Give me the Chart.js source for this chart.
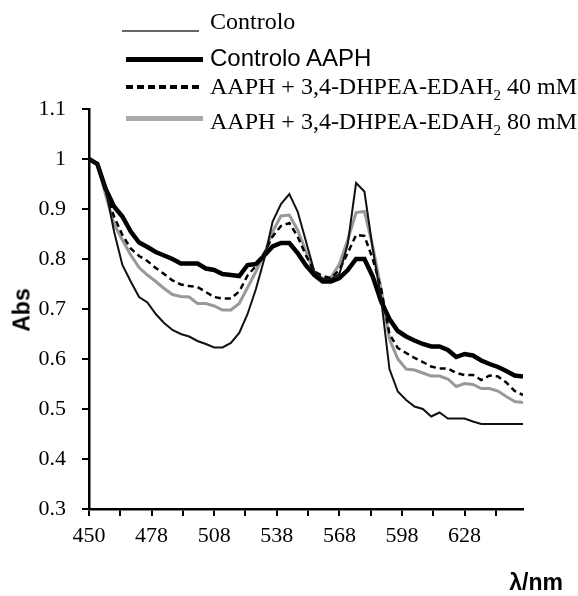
<!DOCTYPE html>
<html>
<head>
<meta charset="utf-8">
<script src="https://cdn.jsdelivr.net/npm/chart.js@4.4.1/dist/chart.umd.min.js"></script>
<style>
  body { margin: 0; background: #fff; }
  #contenedor { position: relative; width: 578px; height: 596px; }
  .linea { position: absolute; }
  .texto { position: absolute; left: 210px; height: 26px; line-height: 26px; white-space: nowrap; font-family: 'Liberation Serif', serif; font-size: 24px; color: #000; }
  .texto sub { font-size: 15px; vertical-align: -6px; line-height: 0; }
  .sans { font-family: 'Liberation Sans', Arial, sans-serif; }
  .titulo { position: absolute; font-family: 'Liberation Sans', Arial, sans-serif; font-weight: bold; font-size: 23px; color: #000; white-space: nowrap; }
</style>
</head>
<body>
<div id="contenedor">
  <canvas id="grafico"></canvas>
  <div class="linea" style="left:122px;top:30px;width:77px;height:2px;background:#666"></div>
  <div class="texto" style="top:8px">Controlo</div>
  <div class="linea" style="left:126px;top:57px;width:77px;height:5px;background:#000"></div>
  <div class="texto sans" style="top:45px">Controlo AAPH</div>
  <div class="linea" style="left:126px;top:85px;width:77px;height:4px;background:repeating-linear-gradient(to right,#000 0 7px,transparent 7px 11px)"></div>
  <div class="texto" style="top:73px">AAPH + 3,4-DHPEA-EDAH<sub>2</sub> 40 mM</div>
  <div class="linea" style="left:126px;top:116px;width:77px;height:5px;background:#aaa"></div>
  <div class="texto" style="top:108px">AAPH + 3,4-DHPEA-EDAH<sub>2</sub> 80 mM</div>
  <div class="titulo" style="left:22px;top:310px;transform:translate(-50%,-50%) rotate(-90deg)">Abs</div>
  <div class="titulo" style="right:15px;top:569px">λ/nm</div>
</div>
<script>
// Datos (longitud de onda en nm)
const lunghezzaOnda = [450, 454, 458, 462, 466, 470, 474, 478, 482, 486, 490, 494, 498, 502, 506, 510, 514, 518, 522, 526,
  530, 534, 538, 542, 546, 550, 554, 558, 562, 566, 570, 574, 578, 582, 586, 590, 594, 598, 602, 606,
  610, 614, 618, 622, 626, 630, 634, 638, 642, 646, 650, 654, 658]

const controlo = [1.0, 0.99, 0.94, 0.855, 0.788, 0.755, 0.724, 0.713, 0.69, 0.672, 0.658, 0.65, 0.645, 0.636, 0.63, 0.623, 0.623, 0.632, 0.652, 0.69,
  0.74, 0.8, 0.875, 0.91, 0.93, 0.895, 0.835, 0.775, 0.76, 0.76, 0.77, 0.83, 0.952, 0.935, 0.82, 0.72, 0.58, 0.535, 0.518, 0.505,
  0.5, 0.485, 0.493, 0.481, 0.481, 0.481, 0.475, 0.47, 0.47, 0.47, 0.47, 0.47, 0.47]

const controloAAPH = [1.0, 0.99, 0.94, 0.905, 0.885, 0.855, 0.833, 0.824, 0.814, 0.807, 0.8, 0.791, 0.791, 0.791, 0.781, 0.778, 0.77, 0.768, 0.766, 0.788,
  0.79, 0.807, 0.825, 0.832, 0.832, 0.812, 0.787, 0.768, 0.755, 0.755, 0.762, 0.778, 0.8, 0.8, 0.765, 0.715, 0.68, 0.656, 0.645, 0.637,
  0.63, 0.625, 0.625, 0.618, 0.604, 0.61, 0.607, 0.597, 0.59, 0.584, 0.576, 0.567, 0.565]

const edah40 = [1.0, 0.99, 0.935, 0.885, 0.848, 0.821, 0.806, 0.796, 0.782, 0.77, 0.757, 0.749, 0.746, 0.744, 0.734, 0.724, 0.721, 0.721, 0.735, 0.767,
  0.786, 0.812, 0.845, 0.866, 0.872, 0.845, 0.807, 0.775, 0.766, 0.762, 0.778, 0.812, 0.848, 0.846, 0.8, 0.74, 0.65, 0.622, 0.612, 0.602,
  0.594, 0.585, 0.581, 0.581, 0.572, 0.568, 0.568, 0.558, 0.567, 0.565, 0.553, 0.536, 0.528]

const edah80 = [1.0, 0.99, 0.928, 0.87, 0.838, 0.808, 0.783, 0.768, 0.755, 0.741, 0.729, 0.725, 0.724, 0.711, 0.711, 0.706, 0.698, 0.698, 0.711, 0.743,
  0.775, 0.81, 0.855, 0.886, 0.888, 0.858, 0.815, 0.772, 0.761, 0.763, 0.79, 0.838, 0.893, 0.895, 0.825, 0.74, 0.64, 0.6, 0.58, 0.578,
  0.572, 0.566, 0.566, 0.56, 0.545, 0.551, 0.549, 0.541, 0.541, 0.536, 0.525, 0.515, 0.513]

// Marcas del eje x y sus etiquetas
const marcasX = [450, 465, 480, 495, 510, 525, 540, 555, 570, 585, 600, 615, 630, 645]
const etiquetasX = ['450', '478', '508', '538', '568', '598', '628']

// Convierte una serie en puntos {x, y}
function puntos(serie) {
  return serie.map((valor, i) => ({ x: lunghezzaOnda[i], y: valor }))
}

const series = [
  { nombre: 'Controlo', datos: controlo, color: '#111', ancho: 2, guion: [] },
  { nombre: 'Controlo AAPH', datos: controloAAPH, color: '#000', ancho: 4.5, guion: [] },
  { nombre: 'AAPH + 3,4-DHPEA-EDAH2 40 mM', datos: edah40, color: '#000', ancho: 2.5, guion: [6, 4] },
  { nombre: 'AAPH + 3,4-DHPEA-EDAH2 80 mM', datos: edah80, color: '#999', ancho: 3, guion: [] }
]

const fuenteTicks = { family: 'Liberation Serif', size: 22 }

new Chart(document.getElementById('grafico'), {
  type: 'line',
  data: {
    datasets: series.map(s => ({
      label: s.nombre,
      data: puntos(s.datos),
      borderColor: s.color,
      borderWidth: s.ancho,
      borderDash: s.guion,
      pointRadius: 0,
      tension: 0,
      fill: false
    }))
  },
  options: {
    responsive: true,
    maintainAspectRatio: false,
    animation: false,
    layout: { padding: { top: 109, right: 55, left: 0, bottom: 0 } },
    plugins: { legend: { display: false }, tooltip: { enabled: false } },
    scales: {
      x: {
        type: 'linear',
        min: 450,
        max: 658,
        afterBuildTicks: (escala) => {
          escala.ticks = marcasX.map(v => ({ value: v }))
        },
        afterFit: (escala) => { escala.height = 87 },
        ticks: {
          autoSkip: false,
          maxRotation: 0,
          padding: 7,
          color: '#000',
          font: fuenteTicks,
          callback: (valor, indice) => indice % 2 === 0 ? etiquetasX[indice / 2] : ''
        },
        grid: { drawOnChartArea: false, drawTicks: true, tickLength: 7, color: '#000', lineWidth: 2 },
        border: { display: true, color: '#000', width: 2.5 }
      },
      y: {
        min: 0.3,
        max: 1.1,
        afterFit: (escala) => { escala.width = 89 },
        ticks: {
          stepSize: 0.1,
          padding: 16,
          color: '#000',
          font: fuenteTicks,
          callback: (valor) => Math.round(valor * 10) / 10
        },
        grid: { drawOnChartArea: false, drawTicks: true, tickLength: 7, color: '#000', lineWidth: 2 },
        border: { display: true, color: '#000', width: 2.5 }
      }
    }
  }
})
</script>
</body>
</html>
